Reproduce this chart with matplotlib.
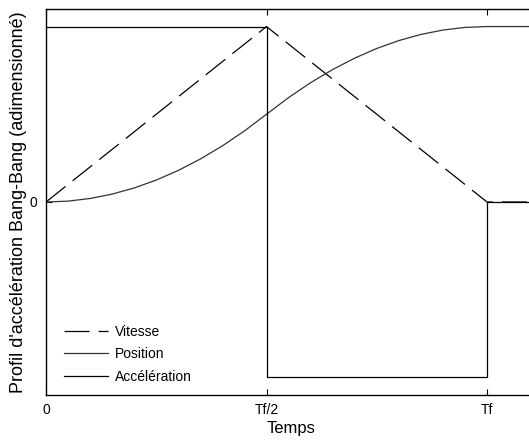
import matplotlib
matplotlib.use("Agg")
import matplotlib.pyplot as plt

plt.rcParams['font.family'] = ['Liberation Sans', 'DejaVu Sans']
plt.rcParams['lines.scale_dashes'] = False

# Data (time in units of Tf)
t_vel = [0.0, 0.5, 1.0, 1.2]
vitesse = [0.0, 1.0, 0.0, 0.0]

t_pos = [0.0, 0.05, 0.1, 0.15, 0.2, 0.25, 0.3, 0.35, 0.4, 0.45, 0.5,
         0.55, 0.6, 0.65, 0.7, 0.75, 0.8, 0.85, 0.9, 0.95, 1.0, 1.2]
position = [0.0, 0.005, 0.02, 0.045, 0.08, 0.125, 0.18, 0.245, 0.32, 0.405, 0.5,
            0.595, 0.68, 0.755, 0.82, 0.875, 0.92, 0.955, 0.98, 0.995, 1.0, 1.0]

t_acc = [0.0, 0.5, 1.0, 1.2]
acceleration = [1.0, -1.0, 0.0, 0.0]

xticks = [0.0, 0.5, 1.0]
xticklabels = ['0', 'Tf/2', 'Tf']
yticks = [0.0]
yticklabels = ['0']

W, H = 529, 441
fig = plt.figure(figsize=(W / 100, H / 100), dpi=100)
ax = fig.add_axes([46 / W, (H - 395) / H, 490 / W, 386 / H])

lw = 0.9
ax.plot(t_vel, vitesse, color='black', lw=lw, dashes=(18, 6.5), label='Vitesse')
ax.plot(t_pos, position, color='#333333', lw=lw, label='Position')
ax.plot(t_acc, acceleration, color='black', lw=lw, drawstyle='steps-post', label='Accélération')

ax.set_xlim(0, 490 / 441)
ax.set_ylim(-1.1, 1.1)
ax.set_xticks(xticks)
ax.set_xticklabels(xticklabels)
ax.set_yticks(yticks)
ax.set_yticklabels(yticklabels)
ax.tick_params(direction='in', length=4, width=0.8, labelsize=10, top=True, right=True, pad=6)
for s in ax.spines.values():
    s.set_linewidth(1.0)

ax.set_xlabel('Temps', fontsize=12, labelpad=3)
ax.set_ylabel("Profil d'accélération Bang-Bang (adimensionné)", fontsize=13, labelpad=2)

leg = ax.legend(loc='lower left', bbox_to_anchor=(0.025, 0.015), frameon=False, fontsize=10,
                handlelength=3.2, handletextpad=0.5, labelspacing=0.6, borderaxespad=0.0)

fig.savefig('out.png', dpi=100)
